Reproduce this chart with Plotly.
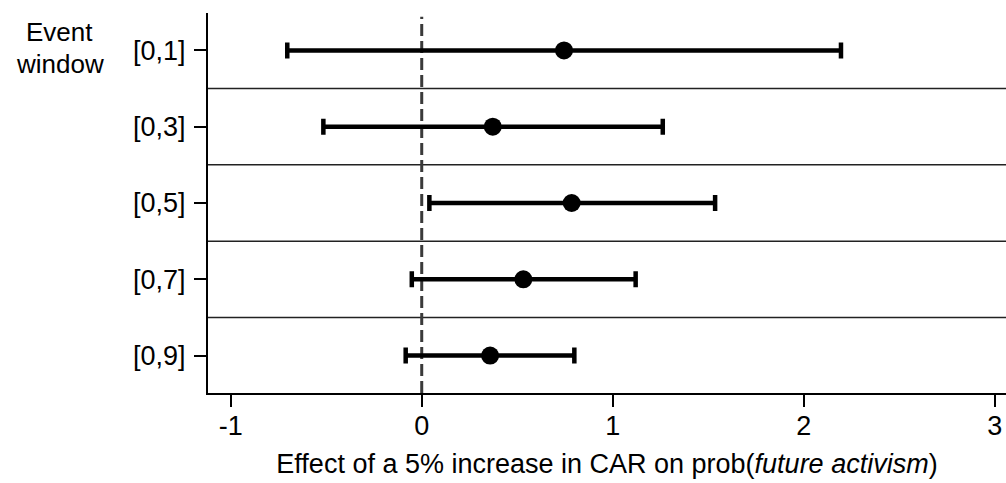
import plotly.graph_objects as go

windows = ["[0,1]", "[0,3]", "[0,5]", "[0,7]", "[0,9]"]
estimates = [0.745, 0.372, 0.785, 0.532, 0.358]
ci_low = [-0.704, -0.515, 0.040, -0.052, -0.084]
ci_high = [2.195, 1.262, 1.536, 1.120, 0.799]
x_ticks = [-1, 0, 1, 2, 3]

ypos = list(range(1, len(windows) + 1))
err_plus = [h - e for h, e in zip(ci_high, estimates)]
err_minus = [e - l for e, l in zip(estimates, ci_low)]

FONT = "Liberation Sans, Arial, sans-serif"
FS = 27

fig = go.Figure()
fig.add_trace(go.Scatter(
    x=estimates, y=ypos, mode="markers",
    marker=dict(color="black", size=18, symbol="circle"),
    error_x=dict(type="data", symmetric=False, array=err_plus, arrayminus=err_minus,
                 color="black", thickness=4.5, width=8),
    showlegend=False, hoverinfo="skip",
))

shapes = []
for k in range(len(windows) - 1):
    shapes.append(dict(type="line", xref="paper", x0=0, x1=1, yref="y",
                       y0=ypos[k] + 0.5, y1=ypos[k] + 0.5,
                       line=dict(color="#222222", width=1.5), layer="below"))
shapes.append(dict(type="line", xref="x", x0=0, x1=0, yref="y", y0=5.49, y1=0.56,
                   line=dict(color="#3a3a3a", width=3, dash="12px,5px"), layer="below"))

fig.update_layout(
    width=1006, height=483,
    margin=dict(l=208, r=0, t=13, b=90, autoexpand=False),
    plot_bgcolor="white", paper_bgcolor="white",
    font=dict(family=FONT, size=FS, color="black"),
    shapes=shapes,
    xaxis=dict(range=[-1.119, 3.059], tickvals=x_ticks, ticktext=[str(v) for v in x_ticks],
               showgrid=False, zeroline=False, showline=True, linecolor="black", linewidth=2,
               ticks="outside", ticklen=12, tickwidth=2, tickcolor="black",
               ticklabelstandoff=-4,
               tickfont=dict(size=FS, family=FONT), automargin=False,
               title=dict(text="Effect of a 5% increase in CAR on prob(<i>future activism</i>)",
                          font=dict(size=FS, family=FONT), standoff=14)),
    yaxis=dict(range=[5.49, 0.51], tickvals=ypos, ticktext=windows,
               showgrid=False, zeroline=False, showline=True, linecolor="black", linewidth=2,
               ticks="outside", ticklen=12, tickwidth=2, tickcolor="black",
               ticklabelstandoff=3, automargin=False,
               tickfont=dict(size=FS, family=FONT)),
    annotations=[
        dict(text="Event", xref="paper", yref="paper", x=-0.1855, y=0.95,
             xanchor="center", yanchor="middle", showarrow=False,
             font=dict(size=26, family=FONT)),
        dict(text="window", xref="paper", yref="paper", x=-0.1855, y=0.8658,
             xanchor="center", yanchor="middle", showarrow=False,
             font=dict(size=26, family=FONT)),
    ],
)

fig.write_html("out.html", config={"displayModeBar": False},
               post_script="document.body.style.margin='0px';")
